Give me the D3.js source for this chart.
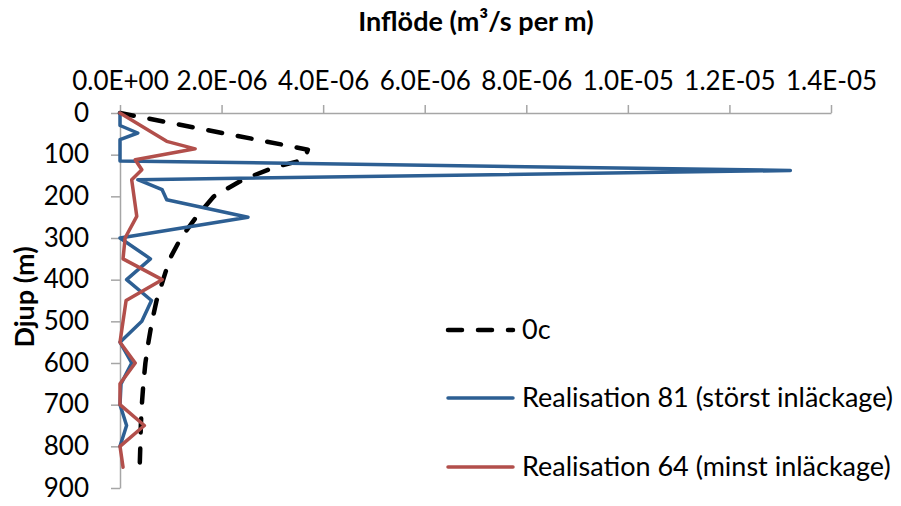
<!DOCTYPE html>
<html>
<head>
<meta charset="utf-8">
<script src="https://cdn.jsdelivr.net/npm/d3@7"></script>
<style>
  body { margin: 0; background: #fff; }
  text { font-family: Lato, 'DejaVu Sans', sans-serif; fill: #000; }
</style>
</head>
<body>
<svg id="chart" width="901" height="506"></svg>
<script>
// depth (m) and inflow (m3/s per m)
const depth0c = [0, 88, 112, 130, 160, 200, 250, 300, 350, 400, 450, 500, 550, 600, 650, 700, 750, 800, 840];
const flow0c = [0, 3.7e-6, 3.63e-6, 3.05e-6, 2.42e-6, 1.85e-6, 1.5e-6, 1.2e-6, 0.98e-6, 0.85e-6, 0.72e-6, 0.63e-6, 0.56e-6, 0.5e-6, 0.46e-6, 0.43e-6, 0.41e-6, 0.4e-6, 0.39e-6];

const depth81 = [0, 30, 48, 64, 115, 138, 160, 184, 208, 250, 300, 350, 400, 450, 500, 550, 600, 650, 700, 750, 800];
const flow81 = [0, 0, 0.35e-6, 0, 0, 1.32e-5, 0.35e-6, 0.83e-6, 0.92e-6, 2.52e-6, 0, 0.6e-6, 0.13e-6, 0.62e-6, 0.43e-6, 0, 0.23e-6, 0.02e-6, 0, 0.13e-6, 0];

const depth64 = [0, 48, 68, 86, 112, 136, 160, 248, 300, 350, 400, 450, 500, 550, 600, 650, 700, 750, 800, 850];
const flow64 = [0, 0.65e-6, 0.92e-6, 1.48e-6, 0.3e-6, 0.43e-6, 0.23e-6, 0.33e-6, 0.1e-6, 0.06e-6, 0.83e-6, 0.12e-6, 0.06e-6, 0, 0.3e-6, 0, 0, 0.48e-6, 0, 0.06e-6];

const xTicks = [0, 2e-6, 4e-6, 6e-6, 8e-6, 1e-5, 1.2e-5, 1.4e-5];
const yTicks = [0, 100, 200, 300, 400, 500, 600, 700, 800, 900];

const seriesNames = ['0c', 'Realisation 81 (störst inläckage)', 'Realisation 64 (minst inläckage)'];

const svg = d3.select('#chart');

const x = d3.scaleLinear().domain([0, 1.4e-5]).range([120, 831]);
const y = d3.scaleLinear().domain([0, 900]).range([113, 488]);

// excel style 0.0E+00
function sci(v) {
  const parts = v.toExponential(1).split('e');
  const exp = +parts[1];
  const sign = exp < 0 ? '-' : '+';
  return parts[0] + 'E' + sign + String(Math.abs(exp)).padStart(2, '0');
}

const axisColor = '#a6a6a6';

const xAxis = svg.append('g')
  .attr('transform', `translate(0, ${y(0)})`)
  .call(d3.axisTop(x).tickValues(xTicks).tickFormat(sci).tickSize(8).tickSizeOuter(0).tickPadding(15));

const yAxis = svg.append('g')
  .attr('transform', `translate(${x(0)}, 0)`)
  .call(d3.axisLeft(y).tickValues(yTicks).tickSize(9).tickSizeOuter(0).tickPadding(22));

[xAxis, yAxis].forEach(a => {
  a.select('.domain').attr('stroke', axisColor).attr('stroke-width', 1.5);
  a.selectAll('.tick line').attr('stroke', axisColor).attr('stroke-width', 1.5);
  a.selectAll('.tick text')
    .attr('fill', '#000')
    .style('font-family', 'Lato, sans-serif')
    .style('font-size', '26px');
});

// titles
svg.append('text')
  .attr('x', 476)
  .attr('y', 31)
  .attr('text-anchor', 'middle')
  .style('font-size', '27px')
  .style('font-weight', 'bold')
  .text('Inflöde (m³/s per m)');

svg.append('text')
  .attr('transform', 'translate(34, 297) rotate(-90)')
  .attr('text-anchor', 'middle')
  .style('font-size', '27px')
  .style('font-weight', 'bold')
  .text('Djup (m)');

const line = d3.line()
  .x(d => x(d[1]))
  .y(d => y(d[0]));

const series = [
  { depth: depth0c, flow: flow0c, color: '#000', width: 4.5, dash: '14 16' },
  { depth: depth81, flow: flow81, color: '#2d5f93', width: 3.5, dash: null },
  { depth: depth64, flow: flow64, color: '#b24f4b', width: 3.5, dash: null },
];

series.forEach(s => {
  svg.append('path')
    .datum(d3.zip(s.depth, s.flow))
    .attr('d', line)
    .attr('fill', 'none')
    .attr('stroke', s.color)
    .attr('stroke-width', s.width)
    .attr('stroke-linejoin', 'round')
    .attr('stroke-linecap', 'round')
    .attr('stroke-dasharray', s.dash);
});

// legend
const legendY = [330, 398, 467];
const legend = svg.append('g');
series.forEach((s, i) => {
  legend.append('line')
    .attr('x1', 448).attr('x2', 513)
    .attr('y1', legendY[i]).attr('y2', legendY[i])
    .attr('stroke', s.color)
    .attr('stroke-width', s.width)
    .attr('stroke-linecap', 'round')
    .attr('stroke-dasharray', s.dash);
  legend.append('text')
    .attr('x', 522)
    .attr('y', legendY[i])
    .attr('dy', '0.35em')
    .style('font-size', '27px')
    .text(seriesNames[i]);
});
</script>
</body>
</html>
